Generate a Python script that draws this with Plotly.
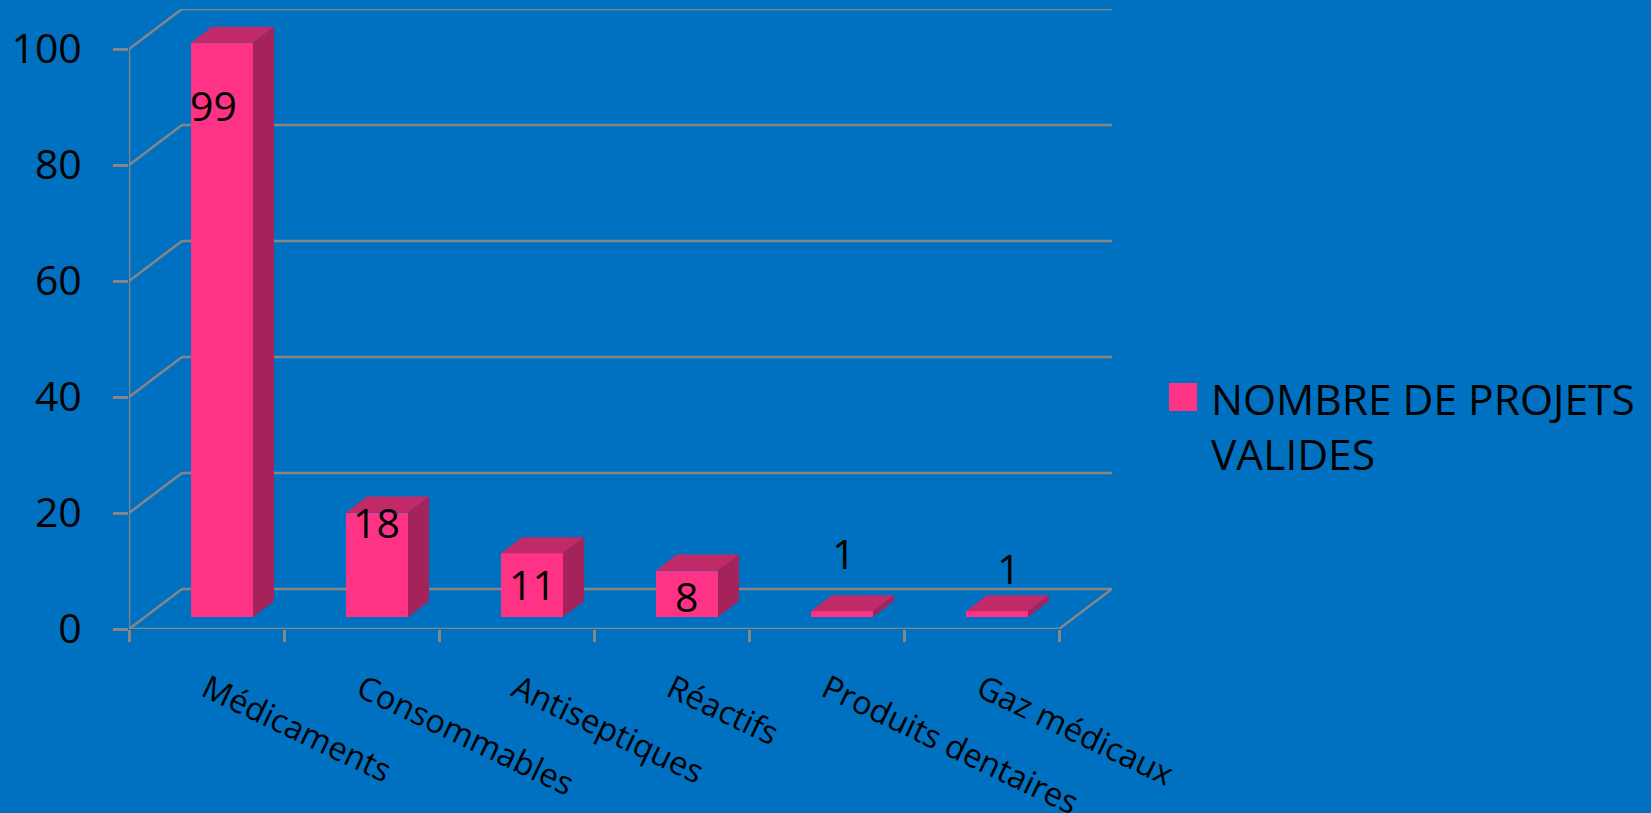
import plotly.graph_objects as go

categories = ["Médicaments", "Consommables", "Antiseptiques", "Réactifs", "Produits dentaires", "Gaz médicaux"]
values = [99, 18, 11, 8, 1, 1]
y_ticks = [0, 20, 40, 60, 80, 100]
series_name = "NOMBRE DE PROJETS<br>VALIDES"

# style
BG = "#0070C0"; FRONT = "#FF3385"; TOP = "#C02A68"; SIDE = "#A3235A"; GRID = "#868686"
FONT = "Open Sans"
W, H = 1651, 813
L, R, T, B = 129, 1112, 9, 629
CAT_PX = 155.0
UNIT_PX = 5.795
# 3-D projection, in data units
wall_dx = 53 / CAT_PX
wall_dy = 40 / UNIT_PX
bar_w = 62 / CAT_PX
bar_shift = 15.5 / CAT_PX
bar_lift = 12 / UNIT_PX
bar_dx = 21 / CAT_PX
bar_dy = 16 / UNIT_PX
# data label offsets from the top centre of each bar (px)
label_shift = [(-9, -62), (-1, -9), (0, -31), (-1, -25), (1, 58), (11, 43)]

n = len(categories)
centers = [i + 0.5 + bar_shift for i in range(n)]

fig = go.Figure()

fig.add_trace(go.Bar(x=centers, y=values, base=bar_lift, width=bar_w,
                     marker=dict(color=FRONT, line=dict(width=0)), showlegend=False,
                     customdata=categories, hovertemplate="%{customdata}: %{y}<extra></extra>"))

top_x, top_y, side_x, side_y = [], [], [], []
for c, v in zip(centers, values):
    x0, x1 = c - bar_w / 2, c + bar_w / 2
    y0, y1 = bar_lift, bar_lift + v
    top_x += [x0, x1, x1 + bar_dx, x0 + bar_dx, x0, None]
    top_y += [y1, y1, y1 + bar_dy, y1 + bar_dy, y1, None]
    side_x += [x1, x1 + bar_dx, x1 + bar_dx, x1, x1, None]
    side_y += [y0, y0 + bar_dy, y1 + bar_dy, y1, y0, None]
fig.add_trace(go.Scatter(x=top_x, y=top_y, mode="lines", fill="toself", fillcolor=TOP,
                         line=dict(width=0, color=TOP), showlegend=False, hoverinfo="skip"))
fig.add_trace(go.Scatter(x=side_x, y=side_y, mode="lines", fill="toself", fillcolor=SIDE,
                         line=dict(width=0, color=SIDE), showlegend=False, hoverinfo="skip"))

# legend entry
fig.add_trace(go.Scatter(x=[None], y=[None], mode="markers", name=series_name, showlegend=True,
                         marker=dict(symbol="square", size=16, color=FRONT,
                                     line=dict(width=10, color=FRONT))))

# walls and floor
line = dict(color=GRID, width=2.5)
shapes = []
def seg(x0, y0, x1, y1):
    shapes.append(dict(type="line", xref="x", yref="y", x0=x0, y0=y0, x1=x1, y1=y1,
                       line=line, layer="below"))
for t in y_ticks:
    seg(0, t, wall_dx, t + wall_dy)
    seg(wall_dx, t + wall_dy, n + wall_dx, t + wall_dy)
seg(0, 0, 0, y_ticks[-1])
seg(0, 0, n, 0)
seg(n, 0, n + wall_dx, wall_dy)

# legend swatch drawn at its full size over the capped legend glyph
def px(x): return (x - L) / (R - L)
def py(y): return (B - y) / (B - T)
shapes.append(dict(type="rect", xref="paper", yref="paper", x0=px(1169), x1=px(1197),
                   y0=py(411), y1=py(383), fillcolor=FRONT, line=dict(width=0), layer="above"))

annotations = [dict(x=c, y=bar_lift + v, xref="x", yref="y", text=str(v), showarrow=False,
                    xshift=s[0], yshift=s[1], font=dict(family=FONT, size=41, color="black"))
               for c, v, s in zip(centers, values, label_shift)]

fig.update_layout(
    width=W, height=H, autosize=False,
    paper_bgcolor=BG, plot_bgcolor=BG,
    margin=dict(l=L, r=W - R, t=T, b=H - B, pad=0),
    shapes=shapes, annotations=annotations, bargap=0,
    font=dict(family=FONT, color="black"),
    legend=dict(x=px(1158), y=py(426), xanchor="left", yanchor="middle", valign="top",
                itemwidth=43, font=dict(family=FONT, size=42.5, color="black"),
                bgcolor="rgba(0,0,0,0)", borderwidth=0),
    xaxis=dict(range=[0, n + wall_dx], tickmode="array", tickvals=[i + 0.5 for i in range(n)],
               ticktext=categories, tickangle=25.5, ticks="", showgrid=False, zeroline=False,
               showline=False, ticklabelstandoff=34, automargin=False,
               tickfont=dict(family=FONT, size=32.5, color="black"),
               minor=dict(tickmode="array", tickvals=list(range(n + 1)), ticks="outside", ticklen=12,
                          tickwidth=2.5, tickcolor=GRID, showgrid=False)),
    yaxis=dict(range=[0, y_ticks[-1] + wall_dy], tickmode="array", tickvals=y_ticks,
               ticks="outside", ticklen=15, tickwidth=2.5, tickcolor=GRID, showgrid=False,
               zeroline=False, showline=False, ticklabelstandoff=23, automargin=False,
               tickfont=dict(family=FONT, size=41, color="black")),
)

fig.write_html("out.html", config={"displayModeBar": False},
               post_script="document.body.style.margin='0';")
